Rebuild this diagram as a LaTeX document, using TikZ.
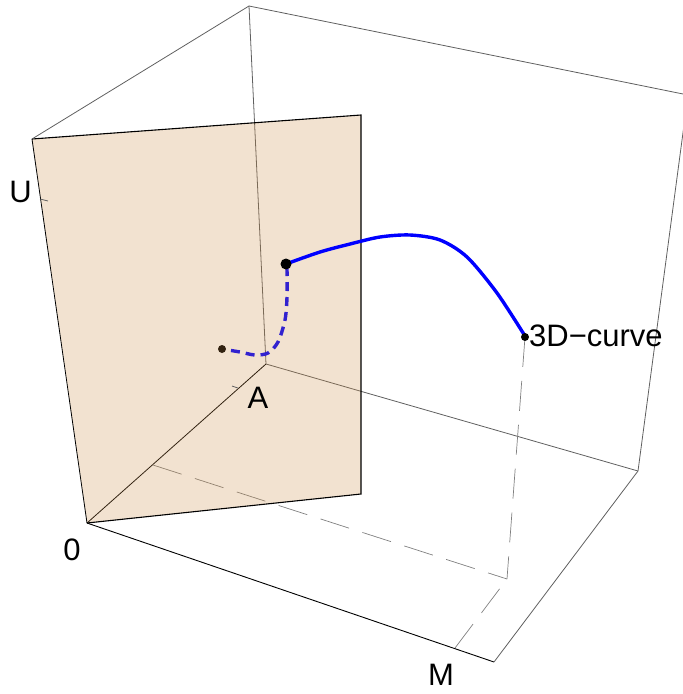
\documentclass[tikz,border=0pt]{standalone}
\usepackage{fontspec}
\setmainfont{Liberation Sans}
\definecolor{planetan}{RGB}{203,139,67}
\definecolor{boxgray}{RGB}{95,95,95}
\definecolor{curveblue}{RGB}{0,0,255}
\begin{document}
\begin{tikzpicture}[x=1pt,y=-1pt,
  boxedge/.style={boxgray,line width=0.8pt},
  dropline/.style={gray,line width=0.7pt,dash pattern=on 30pt off 14pt},
  axlabel/.style={font=\fontsize{31}{37}\selectfont,inner sep=0pt}]
\useasboundingbox (0,0) rectangle (683,694);
\clip (0,0) rectangle (683,694);
\coordinate (O) at (87,523);
\coordinate (M) at (494,662);
\coordinate (A) at (266,364);
\coordinate (U) at (32,139);
\coordinate (AU) at (249,6);
\coordinate (MA) at (638,471);
\coordinate (MAU) at (688,95);
\coordinate (P2) at (361,115);
\coordinate (P3) at (361,494);
\coordinate (Qa) at (153,465);
\coordinate (Qm) at (455,648);
\coordinate (Q) at (507,579);
\coordinate (S) at (286,264);
\coordinate (E) at (525,337);
\coordinate (B) at (222,349);
\draw[boxedge] (A) -- (AU);
\draw[boxedge] (A) -- (MA);
\draw[black,line width=0.8pt] (O) -- (A);
\draw[dropline] (Qa) -- (Q);
\draw[dropline] (Qm) -- (Q);
\draw[dropline] (E) -- (Q);
\draw[curveblue,line width=3.4pt,dash pattern=on 9pt off 6pt] plot[smooth] coordinates {(287,267) (287,297) (285,320) (278,342) (268,353) (255,355) (240,352) (222,349)};
\fill (B) circle (4pt);
\fill[planetan,fill opacity=0.25] (U) -- (P2) -- (P3) -- (O) -- cycle;
\draw[black,line width=1.1pt] (U) -- (P2) -- (P3) -- (O);
\draw[black,line width=0.9pt] (O) -- (M);
\draw[boxedge] (M) -- (MA) -- (MAU) -- (AU) -- (U);
\draw[black,line width=0.8pt] (U) -- (O);
\draw[boxedge] (40,199) -- (48,201);
\draw[boxedge] (232,386) -- (238,388);
\draw[curveblue,line width=3.4pt] plot[smooth] coordinates {(286,264) (320,252) (350,244) (380,237) (410,235) (440,240) (467,257) (497,293) (525,336)};
\fill (S) circle (5.5pt);
\fill (E) circle (4pt);
\node[axlabel] (lblU) at (20.5,191.5) {U};
\node[axlabel] (lblA) at (258,398) {A};
\node[axlabel] (lblM) at (441,675) {M};
\node[axlabel] (lbl0) at (72,550) {0};
\node[axlabel,anchor=base west] (lblcurve) at (529,346) {3D−curve};
\end{tikzpicture}
\end{document}
